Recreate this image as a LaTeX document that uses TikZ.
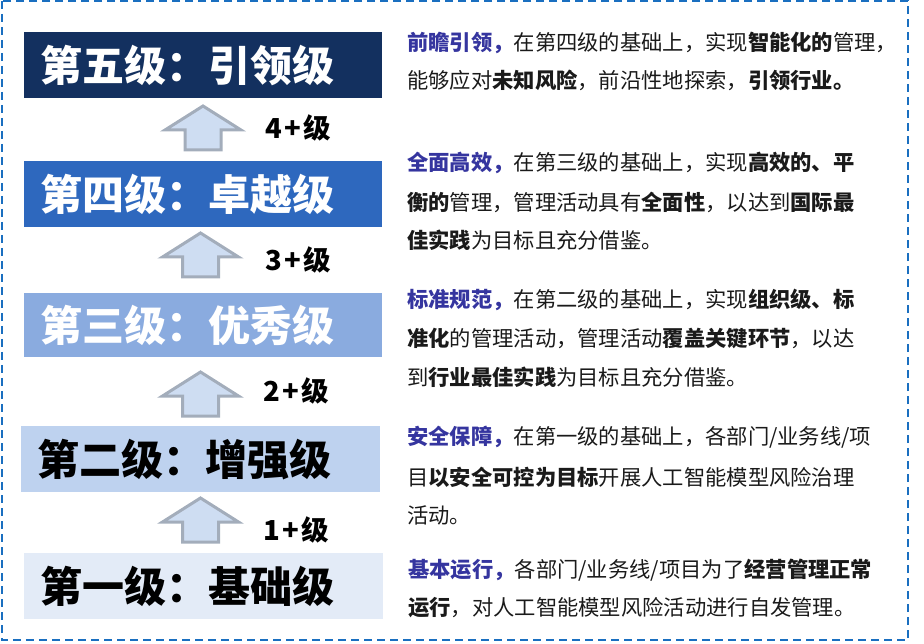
\documentclass[tikz,border=0pt]{standalone}
\usepackage{fontspec}
\setmainfont{Noto Sans CJK SC}
\definecolor{cfive}{HTML}{13305F}
\definecolor{cfour}{HTML}{2E68BE}
\definecolor{cthree}{HTML}{8AABDF}
\definecolor{ctwo}{HTML}{BED2EF}
\definecolor{cone}{HTML}{E3EBF7}
\definecolor{arrfill}{HTML}{CEDDF2}
\definecolor{arrline}{HTML}{A3ADBB}
\definecolor{bordercol}{HTML}{1A6FC0}
\definecolor{hdblue}{HTML}{35359F}
\definecolor{txtcol}{HTML}{1A1A1A}
\newcommand\myhd[1]{{\bfseries\color{hdblue}#1}}
\newcommand\mybf[1]{{\bfseries #1}}
\newcommand\plusgap{\kern2.5pt}
\begin{document}
\begin{tikzpicture}[x=1pt,y=-1pt,
  lvlbox/.style={anchor=north west, minimum width=358pt, minimum height=66pt,
    inner xsep=16pt, inner ysep=0pt, text width=326pt, align=left,
    font=\fontsize{42}{42}\selectfont\bfseries},
  steplabel/.style={anchor=west, inner sep=0pt, text=black,
    font=\fontsize{27.5}{27.5}\selectfont\bfseries},
  descline/.style={anchor=west, inner sep=0pt, text=txtcol,
    font=\fontsize{21.3}{21.3}\selectfont},
  arrowsty/.style={draw=arrline, fill=arrfill, line width=3pt, line join=miter},
  uparr/.pic={\path[arrowsty] (-18,44) -- (-18,24) -- (-38,24) -- (0,0) -- (38,24) -- (18,24) -- (18,44) -- cycle;}
]
\useasboundingbox (0,0) rectangle (924,644);
\draw[bordercol, line width=2.5pt, dash pattern=on 8pt off 5pt] (2,1) rectangle (908,640);

% level boxes
\node[lvlbox, fill=cfive, text=white] (L5) at (24,32) {第五级：引领级};
\node[lvlbox, fill=cfour, text=white] (L4) at (24,161) {第四级：卓越级};
\node[lvlbox, fill=cthree, text=white, minimum height=64pt] (L3) at (24,293) {第三级：优秀级};
\node[lvlbox, fill=ctwo, text=black, minimum width=359pt] (L2) at (21,426) {第二级：增强级};
\node[lvlbox, fill=cone, text=black, minimum width=359pt] (L1) at (24,553) {第一级：基础级};

% arrows
\pic at (203,106) {uparr};
\pic at (200.5,233) {uparr};
\pic at (200.5,372) {uparr};
\pic at (200.5,498) {uparr};

% step labels
\node[steplabel] (S4) at (265,128) {4\plusgap+\plusgap 级};
\node[steplabel] (S3) at (265,260) {3\plusgap+\plusgap 级};
\node[steplabel] (S2) at (263,391) {2\plusgap+\plusgap 级};
\node[steplabel] (S1) at (263,530) {1\plusgap+\plusgap 级};

% descriptions
\node[descline] (d5a) at (407,43) {\myhd{前瞻引领，}在第四级的基础上，实现\mybf{智能化的}管理，};
\node[descline] (d5b) at (407,80) {能够应对\mybf{未知风险}，前沿性地探索，\mybf{引领行业。}};

\node[descline] (d4a) at (407,163) {\myhd{全面高效，}在第三级的基础上，实现\mybf{高效的、平}};
\node[descline] (d4b) at (407,202) {\mybf{衡的}管理，管理活动具有\mybf{全面性}，以达到\mybf{国际最}};
\node[descline] (d4c) at (407,240) {\mybf{佳实践}为目标且充分借鉴。};

\node[descline] (d3a) at (407,300) {\myhd{标准规范，}在第二级的基础上，实现\mybf{组织级、标}};
\node[descline] (d3b) at (407,338) {\mybf{准化}的管理活动，管理活动\mybf{覆盖关键环节}，以达};
\node[descline] (d3c) at (407,377) {到\mybf{行业最佳实践}为目标且充分借鉴。};

\node[descline] (d2a) at (407,437) {\myhd{安全保障，}在第一级的基础上，各部门/业务线/项};
\node[descline] (d2b) at (407,477) {目\mybf{以安全可控为目标}开展人工智能模型风险治理};
\node[descline] (d2c) at (407,515) {活动。};

\node[descline] (d1a) at (408,570) {\myhd{基本运行，}各部门/业务线/项目为了\mybf{经营管理正常}};
\node[descline] (d1b) at (408,608) {\mybf{运行}，对人工智能模型风险活动进行自发管理。};
\end{tikzpicture}
\end{document}
